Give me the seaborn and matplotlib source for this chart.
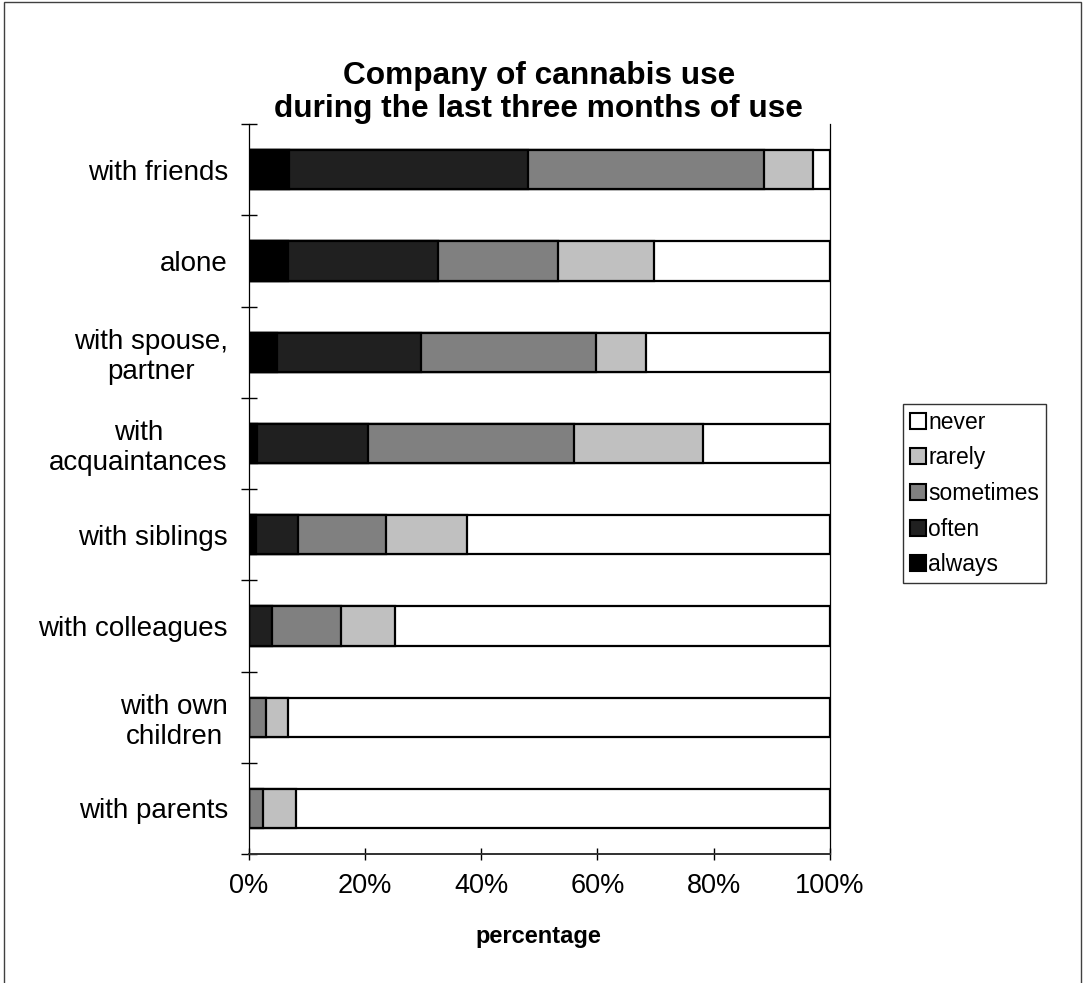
import numpy as np
import pandas as pd
import matplotlib
matplotlib.use("Agg")
import matplotlib.pyplot as plt
from matplotlib.patches import Patch, Rectangle
from matplotlib.ticker import FixedLocator, PercentFormatter
import seaborn as sns

# Share of users (%) by frequency of each company, last three months of use
categories = ["with friends", "alone", "with spouse,\npartner", "with\nacquaintances",
              "with siblings", "with colleagues", "with own\nchildren", "with parents"]
always    = [7.0, 6.7, 4.8, 1.5, 1.2, 0.0, 0.0, 0.0]
often     = [41.1, 25.8, 24.9, 19.1, 7.3, 4.0, 0.0, 0.0]
sometimes = [40.5, 20.7, 30.0, 35.3, 15.2, 11.9, 3.0, 2.5]
rarely    = [8.5, 16.6, 8.7, 22.2, 13.9, 9.3, 3.7, 5.6]
never     = [2.9, 30.2, 31.6, 21.9, 62.4, 74.8, 93.3, 91.9]

levels = ["always", "often", "sometimes", "rarely", "never"]
colors = {"always": "#000000", "often": "#202020", "sometimes": "#808080",
          "rarely": "#c0c0c0", "never": "#ffffff"}

df = pd.DataFrame({"company": categories, "always": always, "often": often,
                   "sometimes": sometimes, "rarely": rarely, "never": never})
cum = df[levels].cumsum(axis=1)

sns.set_style("white")
plt.rcParams["font.family"] = ["Liberation Sans", "DejaVu Sans"]
plt.rcParams["text.color"] = "black"
plt.rcParams["xtick.color"] = "black"
plt.rcParams["ytick.color"] = "black"

fig = plt.figure(figsize=(10.85, 9.83), dpi=100)
ax = fig.add_axes([0.2292, 0.1312, 0.5358, 0.7426])

# stacked bars: draw cumulative totals from the outermost level inward
for lev in reversed(levels):
    sns.barplot(x=cum[lev], y=df["company"], order=categories, orient="h",
                color=colors[lev], edgecolor="black", linewidth=1.6,
                width=0.43, saturation=1, ax=ax)

ax.set_xlim(0, 100)
ax.set_ylim(7.5, -0.5)
ax.xaxis.set_major_locator(FixedLocator([0, 20, 40, 60, 80, 100]))
ax.xaxis.set_major_formatter(PercentFormatter(decimals=0))
ax.set_xlabel("")
ax.set_ylabel("")

ax.yaxis.set_minor_locator(FixedLocator(np.arange(-0.5, 8.0, 1.0)))
ax.tick_params(axis="y", which="major", length=0, pad=15, labelsize=20,
               labelcolor="black")
ax.tick_params(axis="y", which="minor", length=11, width=1, direction="inout",
               left=True, color="black")
ax.tick_params(axis="x", which="major", length=8, width=1, direction="inout",
               bottom=True, color="black", labelsize=19.5, pad=10,
               labelcolor="black")
for lbl in ax.get_yticklabels():
    lbl.set_multialignment("center")

ax.spines["top"].set_visible(False)
ax.spines["right"].set_visible(True)
for side in ["left", "right"]:
    ax.spines[side].set_color("black")
    ax.spines[side].set_linewidth(0.9)
ax.spines["bottom"].set_color("#303030")
ax.spines["bottom"].set_linewidth(1.4)

fig.text(0.4965, 0.906, "Company of cannabis use\nduring the last three months of use",
         ha="center", va="center", fontsize=22.8, fontweight="bold", linespacing=1.1,
         color="black")
fig.text(0.4965, 0.0468, "percentage", ha="center", va="center",
         fontsize=17, fontweight="bold", color="black")

handles = [Patch(facecolor=colors[l], edgecolor="black", linewidth=1.5, label=l)
           for l in reversed(levels)]
leg = fig.legend(handles=handles, loc="upper left", bbox_to_anchor=(0.832, 0.589),
                 fontsize=16.5, frameon=True, fancybox=False, edgecolor="black",
                 handlelength=0.7, handleheight=0.7, handletextpad=0.12,
                 labelspacing=0.55, borderpad=0.3, borderaxespad=0)
leg.get_frame().set_linewidth(1.0)
for t in leg.get_texts():
    t.set_color("black")

fig.patches.append(Rectangle((0.004, -0.02), 0.992, 1.018, transform=fig.transFigure,
                             fill=False, edgecolor="#404040", linewidth=1.0))

fig.savefig("out.png", dpi=100)
